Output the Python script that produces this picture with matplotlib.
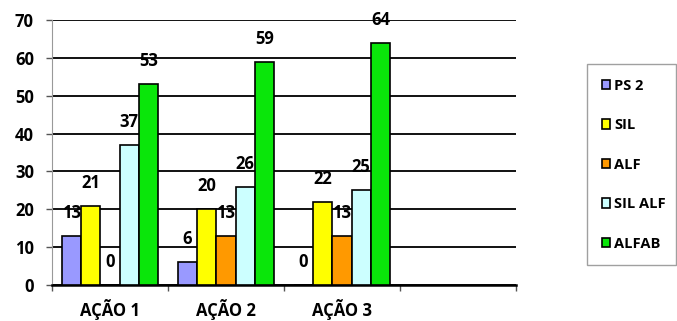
from matplotlib import pyplot as plt
import numpy as np

acoes = ["AÇÃO 1", "AÇÃO 2", "AÇÃO 3", ""]
series = ["PS 2", "SIL", "ALF", "SIL ALF", "ALFAB"]
ps2 = [13, 6, 0]
sil = [21, 20, 22]
alf = [0, 13, 13]
sil_alf = [37, 26, 25]
alfab = [53, 59, 64]
cores = ["#9999ff", "#ffff00", "#ff9900", "#ccffff", "#0ae60a"]

plt.rcParams["font.family"] = ["Open Sans", "DejaVu Sans"]
plt.rcParams["font.weight"] = "bold"

fig = plt.figure(figsize=(6.77, 3.21), dpi=100)
ax = fig.add_axes([52/677, 1-285/321, (516-52)/677, (285-20)/321])

x = np.arange(len(ps2))
w = 0.166
handles = []
for i, (vals, cor, nome) in enumerate(zip([ps2, sil, alf, sil_alf, alfab], cores, series)):
    pos = x + (i - 2) * w
    b = ax.bar(pos, vals, w, color=cor, edgecolor="black", linewidth=1.2, label=nome, zorder=3)
    handles.append(b)
    for p, v in zip(pos, vals):
        ax.annotate(str(v), (p, v), xytext=(0, 16.5), textcoords="offset points",
                    ha="center", va="center", fontsize=12, fontweight="bold", zorder=4)

ax.set_xlim(-0.5, 3.5)
ax.set_ylim(0, 70)
ax.set_yticks(range(0, 71, 10))
ax.yaxis.grid(True, color="#111111", linewidth=1.4, zorder=0)
ax.set_xticks(range(4))
ax.set_xticklabels(acoes, fontweight="bold")
ax.set_xticks(np.arange(-0.5, 4, 1), minor=True)
ax.tick_params(axis="x", which="major", length=0, pad=10, labelsize=12)
ax.tick_params(axis="x", which="minor", length=4, width=1, color="#555555")
ax.tick_params(axis="y", length=4, width=1, color="#555555", pad=9, labelsize=12)
for t in ax.get_yticklabels():
    t.set_fontweight("bold")
for spine in ["top", "right"]:
    ax.spines[spine].set_visible(False)
ax.spines["left"].set_color("#999999")
ax.spines["bottom"].set_linewidth(1.8)
ax.set_axisbelow(True)

leg = fig.legend(handles=handles, loc="upper left", mode="expand",
                 bbox_to_anchor=(587/677, 1-64/321, 89/677, 0),
                 prop={"size": 10.5, "weight": "bold"}, frameon=True, fancybox=False,
                 handlelength=0.6, handleheight=0.6,
                 handletextpad=0.25, labelspacing=1.75, borderpad=1.0, borderaxespad=0)
leg.get_frame().set_edgecolor("#888888")
leg.get_frame().set_linewidth(1.0)

fig.savefig("out.png", dpi=100)
